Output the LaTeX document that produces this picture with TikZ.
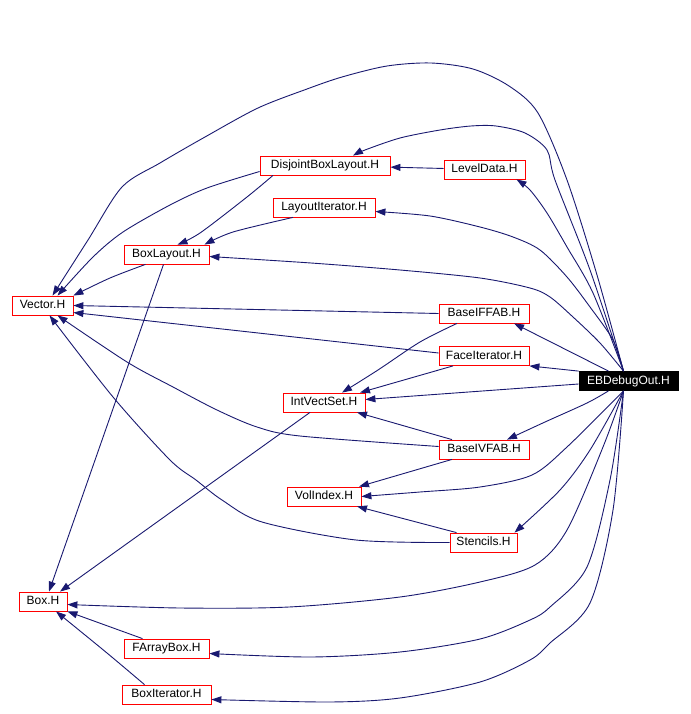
\documentclass[tikz,border=0pt]{standalone}
\usepackage{fontspec}
\setmainfont{Liberation Sans}
\usetikzlibrary{arrows.meta}
\definecolor{edgeblue}{HTML}{191970}
\begin{document}
\begin{tikzpicture}[x=1pt,y=-1pt,>={Triangle[length=10pt,width=7pt]},
  hfile/.style={draw=red,line width=0.8pt,fill=white,minimum height=19pt,inner sep=0pt,
    text height=8.6pt,text depth=2.4pt,font=\fontsize{12}{14}\selectfont},
  mainfile/.style={hfile,draw=black,fill=black,text=white},
  incl/.style={->,draw=edgeblue,line width=0.9pt}]
\useasboundingbox (0,0) rectangle (690,714);

\node[hfile,minimum width=130pt] (dbl) at (325,165.5) {DisjointBoxLayout.H};
\node[hfile,minimum width=81pt] (lvl) at (484.5,169.5) {LevelData.H};
\node[hfile,minimum width=102pt] (lit) at (324,207.5) {LayoutIterator.H};
\node[hfile,minimum width=85pt] (bl) at (166.5,254.5) {BoxLayout.H};
\node[hfile,minimum width=61pt] (vec) at (42.5,305.5) {Vector.H};
\node[hfile,minimum width=90pt] (biff) at (484,313.5) {BaseIFFAB.H};
\node[hfile,minimum width=90pt] (fit) at (484,356) {FaceIterator.H};
\node[mainfile,minimum width=99pt] (ebd) at (628.5,381) {EBDebugOut.H};
\node[hfile,minimum width=82pt] (ivs) at (324,402.5) {IntVectSet.H};
\node[hfile,minimum width=90pt] (bivf) at (484,449.5) {BaseIVFAB.H};
\node[hfile,minimum width=74pt] (vol) at (324,496.5) {VolIndex.H};
\node[hfile,minimum width=67pt] (sten) at (483.5,542.5) {Stencils.H};
\node[hfile,minimum width=48pt] (box) at (43,601.5) {Box.H};
\node[hfile,minimum width=85pt] (fab) at (166.5,648.5) {FArrayBox.H};
\node[hfile,minimum width=89pt] (bit) at (166.5,694.5) {BoxIterator.H};

\coordinate (et) at ([xshift=-5pt]ebd.north);
\coordinate (eb) at ([xshift=-5pt]ebd.south);

\draw[incl] plot[smooth] coordinates {(et) (597,275) (567,180) (538,113) (509,86) (473,69) (431,63) (387,66) (342,77) (307,89) (258,108) (205,137) (160,163) (122,187) (88,240) ([xshift=10pt]vec.north)};
\draw[incl] plot[smooth] coordinates {(et) (590,270) (555,180) (547,150) (525,133) (496,126) (471,126) (440,130) (400,138) (365,150) ([xshift=28pt]dbl.north)};
\draw[incl] (lvl) -- (dbl);
\draw[incl] plot[smooth] coordinates {(et) (593,293) (567,247) (547,213) (530,190) ([xshift=32pt]lvl.south)};
\draw[incl] plot[smooth] coordinates {(et) (613,340) (590,307) (567,277) (540,250) (513,237) (480,227) (430,216) ([yshift=-4pt]lit.east)};
\draw[incl] plot[smooth] coordinates {(et) (600,343) (573,317) (550,297) (530,288) (480,278) (400,270) (311,263) ([yshift=-2pt]bl.east)};
\draw[incl] ([xshift=-20pt]ebd.north) -- ([xshift=30pt]biff.south);
\draw[incl] (ebd.north west) -- (fit.south east);
\draw[incl] ([yshift=-3pt]ebd.west) -- ([yshift=3pt]ivs.east);
\draw[incl] plot[smooth] coordinates {([xshift=-20pt]ebd.south) (587,403) (545,422) ([xshift=23pt]bivf.north)};
\draw[incl] plot[smooth] coordinates {(eb) (567,447) (532,475) (480,487) (420,492) (vol.east)};
\draw[incl] plot[smooth] coordinates {(eb) (590,450) (560,490) ([xshift=31pt]sten.north)};
\draw[incl] plot[smooth] coordinates {(eb) (603,447) (567,530) (535,565) (480,582) (400,597) (289,607) (180,608) ([yshift=-3pt]box.east)};
\draw[incl] plot[smooth] coordinates {(eb) (610,480) (587,567) (550,607) (530,620) (480,639) (400,652) (311,657) ([yshift=-5pt]fab.east)};
\draw[incl] plot[smooth] coordinates {(eb) (613,510) (590,603) (550,643) (530,660) (480,682) (400,698) (329,702) ([yshift=-5pt]bit.east)};

\draw[incl] plot[smooth] coordinates {([yshift=-6pt]dbl.west) (207,188) (170,205) (123,232) (93,257) ([xshift=15pt]vec.north)};
\draw[incl] plot[smooth] coordinates {([xshift=-52pt]dbl.south) (247,197) (200,233) ([xshift=11pt]bl.north)};
\draw[incl] plot[smooth] coordinates {([xshift=-31pt]lit.south) (233,232) ([xshift=38pt]bl.north)};
\draw[incl] plot[smooth] coordinates {([xshift=-21pt]bl.south) (110,278) (vec.north east)};
\draw[incl] ([xshift=-3pt]bl.south) -- ([xshift=6pt]box.north);
\draw[incl] (biff.west) -- (vec.east);
\draw[incl] ([yshift=3pt]fit.west) -- ([yshift=-7pt]vec.east);
\draw[incl] plot[smooth] coordinates {([xshift=-27pt]biff.south) (420,342) (378,370) ([xshift=18pt]ivs.north)};
\draw[incl] ([xshift=-31pt]fit.south) -- ([xshift=36pt]ivs.north);
\draw[incl] ([xshift=-32pt]bivf.north) -- ([xshift=33pt]ivs.south);
\draw[incl] plot[smooth] coordinates {([yshift=3pt]bivf.west) (300,436) (257,427) (217,410) (173,387) (127,362) ([xshift=15pt]vec.south)};
\draw[incl] ([xshift=-32pt]bivf.south) -- ([xshift=35pt]vol.north);
\draw[incl] ([xshift=-14pt]ivs.south) -- ([xshift=17pt]box.north);
\draw[incl] ([xshift=-27pt]sten.north) -- ([xshift=33pt]vol.south);
\draw[incl] plot[smooth] coordinates {(sten.west) (356,540) (262,522) (222,500) (196,480) (170,460) (113,397) ([xshift=7pt]vec.south)};
\draw[incl] ([xshift=-24pt]fab.north) -- (box.south east);
\draw[incl] plot[smooth] coordinates {([xshift=-22pt]bit.north) (107,653) ([xshift=13pt]box.south)};
\end{tikzpicture}
\end{document}
